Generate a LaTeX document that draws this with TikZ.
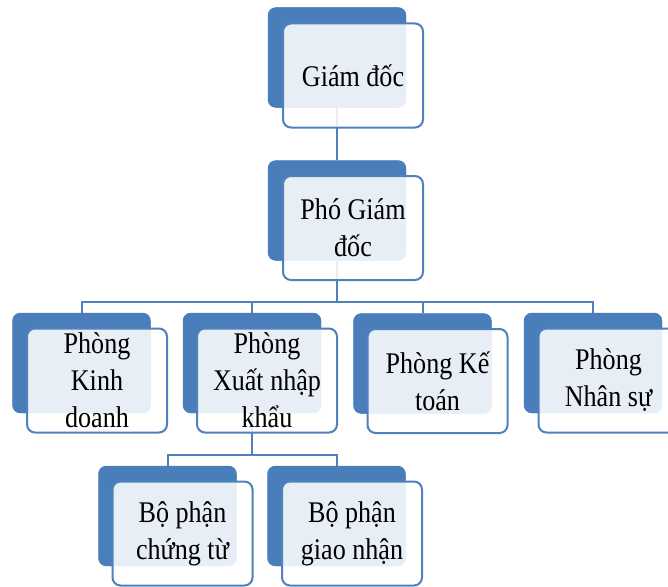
\documentclass[tikz,border=0pt]{standalone}
\usepackage{fontspec}
\setmainfont{Liberation Serif}[FakeStretch=0.87]
\definecolor{backblue}{HTML}{4A7EBB}
\definecolor{lineblue}{HTML}{4F81BD}
\begin{document}
\begin{tikzpicture}[x=1pt,y=-1pt,
  backbox/.style={rectangle, rounded corners=8pt, fill=backblue, minimum width=138pt, minimum height=100pt, inner sep=0pt},
  frontbox/.style={rectangle, rounded corners=8pt, draw=lineblue, line width=2pt, fill=white, fill opacity=0.87, text opacity=1,
    minimum width=140pt, minimum height=104pt, inner sep=1pt, align=center, font=\fontsize{30}{37}\selectfont},
  conn/.style={draw=lineblue, line width=2pt}]
\useasboundingbox (0,0) rectangle (668,586);
\fill[white] (0,0) rectangle (668,586);
% back boxes
\node[backbox] (gdb) at (337,57.5) {};
\node[backbox] (pgdb) at (337,210.5) {};
\node[backbox] (kdb) at (81.5,363) {};
\node[backbox] (xnkb) at (252,363) {};
\node[backbox] (ktb) at (422.5,363.5) {};
\node[backbox] (nsb) at (593,363) {};
\node[backbox] (ctb) at (167.5,516) {};
\node[backbox] (gnb) at (336.5,516) {};
% connectors
\coordinate (bus1) at (0,302);
\coordinate (bus2) at (0,455);
\draw[conn] (gdb.south) -- (pgdb.north);
\draw[conn] (pgdb.south) -- (pgdb.south |- bus1);
\draw[conn] (kdb.north) -- (kdb.north |- bus1) -- (nsb.north |- bus1) -- (nsb.north);
\draw[conn] (xnkb.north) -- (xnkb.north |- bus1);
\draw[conn] (ktb.north) -- (ktb.north |- bus1);
\draw[conn] (xnkb.south) -- (xnkb.south |- bus2);
\draw[conn] (ctb.north) -- (ctb.north |- bus2) -- (gnb.north |- bus2) -- (gnb.north);
% back boxes again on top of connectors
\foreach \n in {gdb,pgdb,kdb,xnkb,ktb,nsb,ctb,gnb}{
  \fill[backblue, rounded corners=8pt] (\n.north west) rectangle (\n.south east);
}
% front boxes
\node[frontbox] (gd) at (353,75.5) {Giám đốc};
\node[frontbox] (pgd) at (353,228) {Phó Giám\\đốc};
\node[frontbox] (kd) at (97,380.5) {Phòng\\Kinh\\doanh};
\node[frontbox] (xnk) at (267,380.5) {Phòng\\Xuất nhập\\khẩu};
\node[frontbox] (kt) at (437.5,381) {Phòng Kế\\toán};
\node[frontbox] (ns) at (608.5,380.5) {Phòng\\Nhân sự};
\node[frontbox] (ct) at (182.5,533.5) {Bộ phận\\chứng từ};
\node[frontbox] (gn) at (352,533.5) {Bộ phận\\giao nhận};
\end{tikzpicture}
\end{document}
